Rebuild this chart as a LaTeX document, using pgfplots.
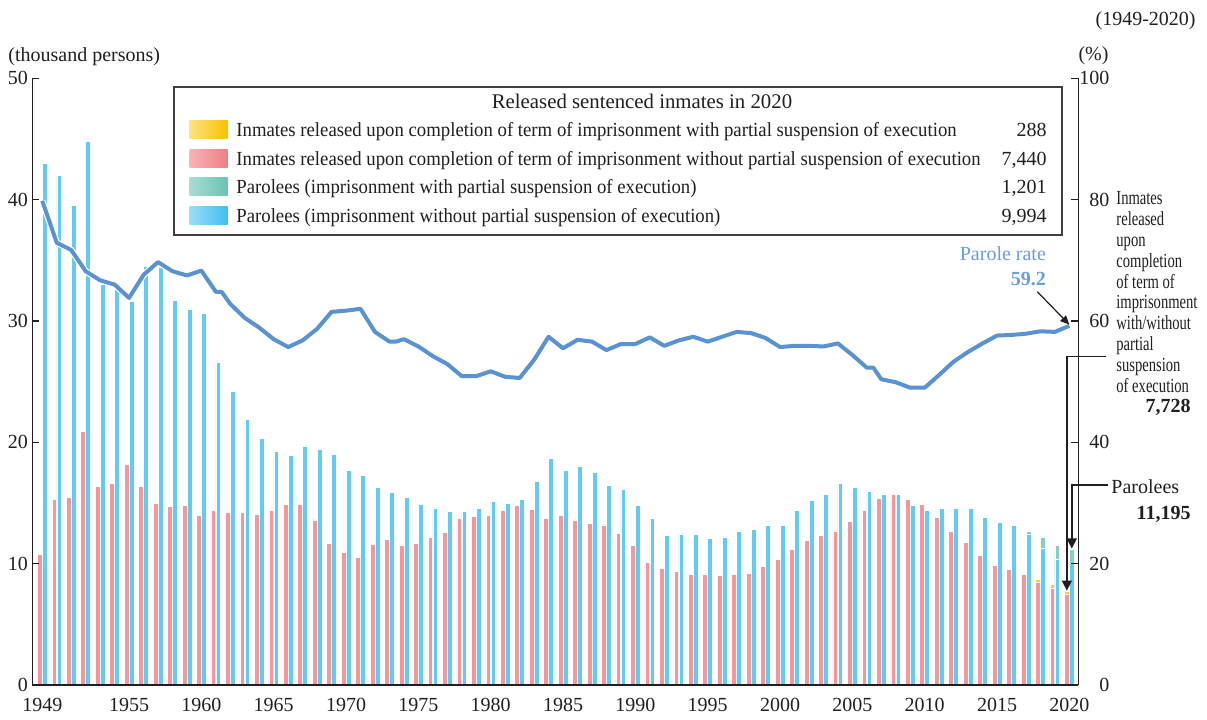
\documentclass[border=0pt]{standalone}
\usepackage{pgfplots}
\pgfplotsset{compat=1.18}
\usepackage{pgfplotstable}
\usepackage{fontspec}
\setmainfont{Liberation Serif}
\newfontfamily\narrowfont{Liberation Serif}[FakeStretch=0.73]
\newfontfamily\legfont{Liberation Serif}[FakeStretch=0.937]
\usetikzlibrary{arrows.meta}
\definecolor{redbar}{HTML}{F4969B}
\definecolor{bluebar}{HTML}{62CBF1}
\definecolor{tealbar}{HTML}{86CFC2}
\definecolor{yellowbar}{HTML}{FBCB3A}
\definecolor{linecol}{HTML}{5B93D2}
\definecolor{ratetext}{HTML}{6A9EDF}
\definecolor{axcol}{HTML}{231F20}

\pgfplotstableread{
year red blue
1949 10.8 43.0
1950 15.3 42.0
1951 15.5 39.5
1952 20.9 44.8
1953 16.4 33.0
1954 16.6 32.6
1955 18.2 31.6
1956 16.4 34.5
1957 15.0 34.4
1958 14.7 31.7
1959 14.8 31.0
1960 14.0 30.6
1961 14.4 26.6
1962 14.2 24.2
1963 14.2 21.9
1964 14.1 20.3
1965 14.4 19.3
1966 14.9 18.9
1967 14.9 19.7
1968 13.6 19.4
1969 11.7 19.0
1970 10.9 17.7
1971 10.5 17.3
1972 11.6 16.3
1973 12.0 15.9
1974 11.55 15.5
1975 11.7 14.9
1976 12.2 14.6
1977 12.6 14.3
1978 13.7 14.3
1979 13.9 14.55
1980 14.0 15.1
1981 14.4 14.95
1982 14.8 15.3
1983 14.5 16.8
1984 13.7 18.65
1985 14.0 17.7
1986 13.6 18.05
1987 13.3 17.5
1988 13.2 16.45
1989 12.5 16.1
1990 11.5 14.8
1991 10.1 13.7
1992 9.6 12.3
1993 9.4 12.45
1994 9.15 12.45
1995 9.15 12.05
1996 9.0 12.2
1997 9.1 12.7
1998 9.2 12.85
1999 9.8 13.2
2000 10.4 13.2
2001 11.2 14.4
2002 11.9 15.2
2003 12.3 15.7
2004 12.7 16.6
2005 13.5 16.3
2006 14.4 16.0
2007 15.4 15.75
2008 15.7 15.75
2009 15.3 14.8
2010 14.9 14.4
2011 13.85 14.55
2012 12.7 14.6
2013 11.8 14.55
2014 10.65 13.85
2015 9.9 13.45
2016 9.55 13.15
2017 9.1 12.4
2018 8.45 11.25
2019 8.0 10.35
2020 7.44 9.994
}\bars

\pgfplotstableread{
year redtot bluetot
2017 9.2 12.65
2018 8.75 12.2
2019 8.3 11.55
2020 7.728 11.195
}\partial

\pgfplotstableread{
year rate
1949 79.8
1950 72.9
1951 71.7
1952 68.2
1953 66.7
1954 66.0
1955 63.8
1956 67.6
1957 69.7
1958 68.2
1959 67.5
1960 68.3
1961 64.8
1961.4 64.8
1962 62.8
1963 60.5
1964 58.9
1965 57.0
1966 55.7
1967 56.8
1968 58.7
1969 61.5
1970 61.7
1971 62.0
1972 58.2
1973 56.6
1973.45 56.6
1974 57.0
1975 55.8
1976 54.2
1977 52.9
1978 50.9
1979 50.9
1980 51.7
1981 50.8
1982 50.6
1983 53.6
1984 57.4
1985 55.5
1986 56.9
1987 56.6
1988 55.2
1989 56.2
1990 56.2
1991 57.3
1992 55.9
1993 56.8
1994 57.4
1995 56.6
1996 57.4
1997 58.2
1998 58.0
1999 57.2
2000 55.7
2001 55.9
2002 55.9
2003 55.8
2004 56.3
2005 54.4
2006 52.3
2006.45 52.3
2007 50.4
2008 49.9
2009 49.0
2010 49.0
2011 51.1
2012 53.3
2013 54.9
2014 56.3
2015 57.6
2016 57.7
2017 57.9
2018 58.3
2019 58.2
2020 59.2
}\rate

\begin{document}
\begin{tikzpicture}
\pgfplotsset{
  every axis/.append style={
    at={(0,0)}, anchor=south west, scale only axis,
    width=523pt, height=303.35pt,
    xmin=1948.31, xmax=2020.62,
    /pgf/number format/assume math mode=true,
    /pgf/number format/1000 sep={},
    axis line style={line width=0.7pt, color=axcol, -},
    tick align=inside, major tick length=3.5pt,
    tick style={line width=0.6pt, color=axcol},
    tick label style={font=\fontsize{10}{12}\selectfont, text=axcol},
  },
  mybar/.style={ybar, bar width=2.4pt, draw=white, line width=0.3pt},
}
\begin{axis}[
  axis on top,
  ymin=0, ymax=50,
  axis x line*=bottom, axis y line*=left,
  ytick={0,10,...,50},
  xtick={1949,1955,1960,1965,1970,1975,1980,1985,1990,1995,2000,2005,2010,2015,2020},
  xtick style={draw=none},
  xticklabel style={inner sep=0pt, anchor=north, yshift=-6.3pt},
  yticklabel style={inner sep=0pt, anchor=east, xshift=-2pt},
]
\addplot[mybar, bar shift=-1.25pt, fill=yellowbar] table[x=year,y=redtot]{\partial};
\addplot[mybar, bar shift=-1.25pt, fill=redbar] table[x=year,y=red]{\bars};
\addplot[mybar, bar shift=1.25pt, fill=tealbar] table[x=year,y=bluetot]{\partial};
\addplot[mybar, bar shift=1.25pt, fill=bluebar] table[x=year,y=blue]{\bars};
\coordinate (redtip) at (axis cs:2019.83,7.78);
\coordinate (bluetip) at (axis cs:2020.17,11.25);
\end{axis}
\begin{axis}[
  ymin=0, ymax=100,
  axis x line=none, axis y line*=right,
  ytick={0,20,...,100},
  yticklabel style={inner sep=0pt, anchor=west, text width=15.3pt, align=right, xshift=0pt},
]
\addplot[white, line width=3.2pt, line join=round] table[x=year,y=rate]{\rate};
\addplot[linecol, line width=2pt, line join=round] table[x=year,y=rate]{\rate};
\coordinate (prtip) at (axis cs:2020,59.4);
\end{axis}

% axis titles
\node[anchor=base west, inner sep=0pt, text=axcol] at (-12.15pt,311.65pt) {(thousand persons)};
\node[anchor=base, inner sep=0pt, text=axcol] at (530.6pt,312pt) {(\%)};
\node[anchor=base east, inner sep=0pt, text=axcol] at (581.85pt,329.5pt) {(1949-2020)};

% legend box
\fill[white] (70.85pt,225pt) rectangle (514.85pt,299pt);
\draw[line width=0.6pt, color=black!75] (70.85pt,225pt) rectangle (514.85pt,299pt);
\shade[left color={rgb,255:red,255;green,226;blue,127}, right color={rgb,255:red,248;green,195;blue,0}] (78.6pt,273pt) rectangle (97.6pt,282pt);
\shade[left color={rgb,255:red,249;green,179;blue,181}, right color={rgb,255:red,239;green,127;blue,136}] (78.6pt,258.7pt) rectangle (97.6pt,267.7pt);
\shade[left color={rgb,255:red,166;green,221;blue,211}, right color={rgb,255:red,108;green,195;blue,179}] (78.6pt,244.6pt) rectangle (97.6pt,253.6pt);
\shade[left color={rgb,255:red,155;green,221;blue,248}, right color={rgb,255:red,62;green,192;blue,238}] (78.6pt,230.35pt) rectangle (97.6pt,239.35pt);
\begin{scope}[every node/.style={inner sep=0pt, text=axcol}]
\node[anchor=base] at (304.85pt,288pt) {\fontsize{10.4}{12}\selectfont Released sentenced inmates in 2020};
\node[anchor=base west] at (101.85pt,274pt) {\legfont Inmates released upon completion of term of imprisonment with partial suspension of execution};
\node[anchor=base west] at (101.85pt,259.7pt) {\legfont Inmates released upon completion of term of imprisonment without partial suspension of execution};
\node[anchor=base west] at (101.85pt,245.6pt) {\legfont Parolees (imprisonment with partial suspension of execution)};
\node[anchor=base west] at (101.85pt,231.35pt) {\legfont Parolees (imprisonment without partial suspension of execution)};
\node[anchor=base east] at (507.35pt,274pt) {288};
\node[anchor=base east] at (507.35pt,259.7pt) {7,440};
\node[anchor=base east] at (507.35pt,245.6pt) {1,201};
\node[anchor=base east] at (507.35pt,231.35pt) {9,994};

% parole rate
\node[anchor=base east, text=ratetext] at (507pt,212pt) {Parole rate};
\node[anchor=base east, text=ratetext] at (507pt,199.5pt) {\textbf{59.2}};

% right annotations
\foreach \t [count=\i from 0] in {Inmates,released,upon,completion,of term of,imprisonment,with/without,partial,suspension,of execution}{
  \node[anchor=base west] at (541.85pt,240pt-10.4pt*\i) {\narrowfont \t};
}
\node[anchor=base east] at (579.35pt,136pt) {\textbf{7,728}};
\node[anchor=base west] at (539.35pt,95.5pt) {Parolees};
\node[anchor=base east] at (579.35pt,82.5pt) {\textbf{11,195}};
\end{scope}

\draw[line width=0.6pt, color=axcol, -{Triangle[length=4.5pt,width=4pt]}] (502.5pt,196.65pt) -- (prtip);
\draw[line width=0.8pt, color=axcol, -{Triangle[length=5pt,width=5pt]}] (536.85pt,164.15pt) -- (redtip |- 0pt,164.15pt) -- (redtip);
\draw[line width=0.8pt, color=axcol, -{Triangle[length=5pt,width=5pt]}] (537.85pt,100pt) -- (bluetip |- 0pt,100pt) -- (bluetip);

\pgfresetboundingbox
\useasboundingbox (-16.15pt,-17pt) rectangle (587.35pt,342.5pt);
\end{tikzpicture}
\end{document}
